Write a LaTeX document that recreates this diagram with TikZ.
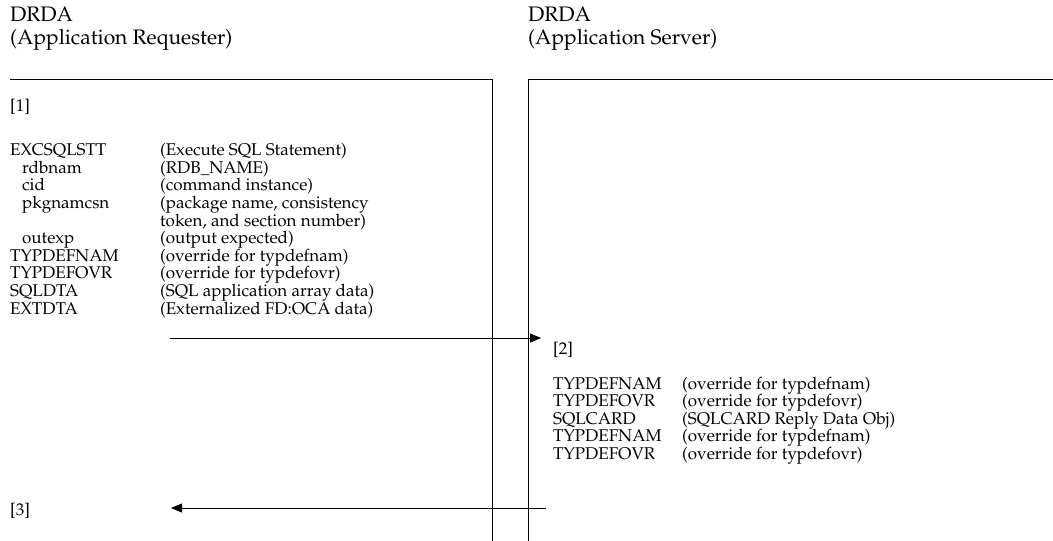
\documentclass[tikz,border=0pt]{standalone}
\usepackage[T1]{fontenc}
\usepackage{mathpazo}
\usepackage{tikz}
\usetikzlibrary{arrows.meta,positioning}

\begin{document}
\begin{tikzpicture}[x=1pt,y=-1pt]
\tikzstyle{every node}+=[inner sep=0pt,anchor=base west,font=\fontsize{17}{17.6}\selectfont]
\tikzstyle{heading}=[font=\fontsize{21}{22}\selectfont]
\tikzstyle{flow}=[black,line width=0.8pt,-{Triangle[length=11pt,width=9pt]}]
\useasboundingbox (0,0) rectangle (1053,541);
% headings
\node [heading] (reqname) at (10,21) {DRDA};
\node [heading] (reqrole) at (10,44) {(Application Requester)};
\node [heading] (srvname) at (528,21) {DRDA};
\node [heading] (srvrole) at (528,44) {(Application Server)};
% frames
\draw [black,line width=0.6pt] (10,79) -- (492,79) -- (492,541);
\draw [black,line width=0.6pt] (1053,79) -- (528,79) -- (528,541);
% requester side
\node (step1) at (10,111) {[1]};
\node (cmd) at (10,155) {EXCSQLSTT};
\node (cmdtxt) at (160,155) {(Execute SQL Statement)};
\node (rdb) at (22,173) {rdbnam};
\node (rdbtxt) at (160,173) {(RDB\_NAME)};
\node (cid) at (22,190) {cid};
\node (cidtxt) at (160,190) {(command instance)};
\node (pkg) at (22,208) {pkgnamcsn};
\node (pkgtxt) at (160,208) {(package name, consistency};
\node (pkgtxtb) at (160,226) {token, and section number)};
\node (outexp) at (22,243) {outexp};
\node (outexptxt) at (160,243) {(output expected)};
\node (tdnam) at (10,261) {TYPDEFNAM};
\node (tdnamtxt) at (160,261) {(override for typdefnam)};
\node (tdovr) at (10,278) {TYPDEFOVR};
\node (tdovrtxt) at (160,278) {(override for typdefovr)};
\node (sqldta) at (10,296) {SQLDTA};
\node (sqldtatxt) at (160,296) {(SQL application array data)};
\node (extdta) at (10,314) {EXTDTA};
\node (extdtatxt) at (160,314) {(Externalized FD:OCA data)};
% server side
\node (step2) at (553,354) {[2]};
\node (rtdnam) at (553,389) {TYPDEFNAM};
\node (rtdnamtxt) at (682,389) {(override for typdefnam)};
\node (rtdovr) at (553,406) {TYPDEFOVR};
\node (rtdovrtxt) at (682,406) {(override for typdefovr)};
\node (sqlcard) at (553,424) {SQLCARD};
\node (sqlcardtxt) at (682,424) {(SQLCARD Reply Data Obj)};
\node (rtdnamb) at (553,441) {TYPDEFNAM};
\node (rtdnambtxt) at (682,441) {(override for typdefnam)};
\node (rtdovrb) at (553,459) {TYPDEFOVR};
\node (rtdovrbtxt) at (682,459) {(override for typdefovr)};
\node (step3) at (10,515) {[3]};
% flows
\coordinate (sendfrom) at (170,338);
\coordinate (sendto) at (541,338);
\coordinate (replyfrom) at (546,508);
\coordinate (replyto) at (171,508);
\draw [flow] (sendfrom) -- (sendto);
\draw [flow] (replyfrom) -- (replyto);
\end{tikzpicture}
\end{document}
